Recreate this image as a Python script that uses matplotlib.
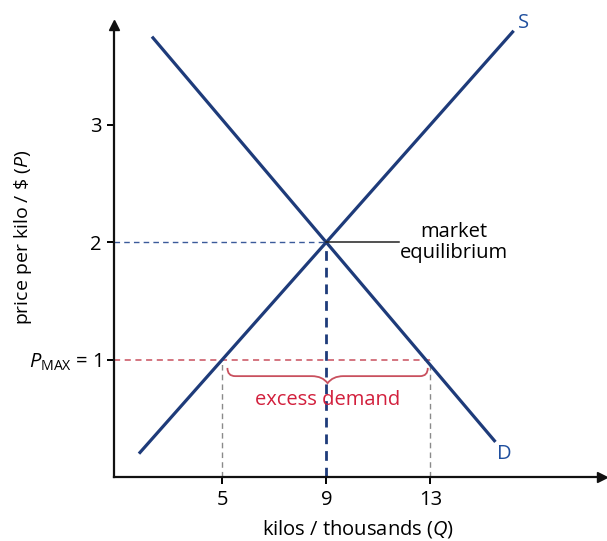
import matplotlib
matplotlib.use("Agg")
import matplotlib.pyplot as plt
from matplotlib.path import Path
from matplotlib.patches import PathPatch

plt.rcParams['font.family'] = ['Open Sans', 'DejaVu Sans']
plt.rcParams['mathtext.fontset'] = 'custom'
plt.rcParams['mathtext.rm'] = 'Open Sans'
plt.rcParams['mathtext.it'] = 'Open Sans:italic'

# ---- data ----
supply_q = [1.8, 16.2]
supply_p = [0.2, 3.8]
demand_q = [2.3, 15.5]
demand_p = [3.75, 0.3]
eq_q, eq_p = 9, 2
p_max = 1
q_supplied, q_demanded = 5, 13
x_ticks = [5, 9, 13]
x_tick_labels = ["5", "9", "13"]
y_ticks = [1, 2, 3]
y_tick_labels = [r"$\mathit{P}_{\mathrm{MAX}}$ = 1", "2", "3"]

NAVY = "#1e3b7a"
BLUE_TXT = "#1f4f9e"
RED = "#d21f3c"
RED_LINE = "#c9505e"
FS = 14.5

fig = plt.figure(figsize=(6.07, 5.41), dpi=100)
ax = fig.add_axes([0.188, 0.118, 0.804, 0.836])
ax.set_xlim(0.846, 19.6)
ax.set_ylim(0, 3.85)

for s in ["top", "right"]:
    ax.spines[s].set_visible(False)
for s in ["left", "bottom"]:
    ax.spines[s].set_linewidth(1.6)
    ax.spines[s].set_color("#111111")

ax.plot(1, 0, ">", color="#111111", ms=7, transform=ax.transAxes, clip_on=False)
ax.plot(0, 1, "^", color="#111111", ms=7, transform=ax.transAxes, clip_on=False)

ax.set_xticks(x_ticks)
ax.set_xticklabels(x_tick_labels)
ax.set_yticks(y_ticks)
ax.set_yticklabels(y_tick_labels)
ax.tick_params(axis="both", direction="out", length=5, width=1.4, labelsize=FS, pad=4)

ax.set_xlabel(r"kilos / thousands ($\mathit{Q}$)", fontsize=FS, labelpad=6)
ax.set_ylabel(r"price per kilo / \$ ($\mathit{P}$)", fontsize=14)
ax.yaxis.set_label_coords(-0.165, 0.53)

# dashed guide lines
xl = ax.get_xlim()[0]
ax.plot([xl, eq_q], [eq_p, eq_p], ls=(0, (4, 3)), color="#3a5a9a", lw=1.0)
ax.plot([eq_q, eq_q], [0, eq_p], ls=(0, (3.5, 2.5)), color=NAVY, lw=2.0)
ax.plot([xl, q_demanded], [p_max, p_max], ls=(0, (4, 3)), color=RED_LINE, lw=1.1)
for q in [q_supplied, q_demanded]:
    ax.plot([q, q], [0, p_max], ls=(0, (4, 3)), color="#8a8a8a", lw=1.0)

# supply & demand
ax.plot(supply_q, supply_p, color=NAVY, lw=2.3, solid_capstyle="butt")
ax.plot(demand_q, demand_p, color=NAVY, lw=2.3, solid_capstyle="butt")
ax.text(supply_q[1] + 0.15, supply_p[1] - 0.02, "S", color=BLUE_TXT, fontsize=FS, ha="left", va="bottom")
ax.text(demand_q[1] + 0.05, demand_p[1] - 0.02, "D", color=BLUE_TXT, fontsize=FS, ha="left", va="top")

# market equilibrium label
ax.plot([eq_q, 11.8], [eq_p, eq_p], color="#222222", lw=1.1)
ax.text(13.9, 2.0, "market\nequilibrium", fontsize=FS, ha="center", va="center", linespacing=1.05)

# brace
x0, x1 = q_supplied + 0.2, q_demanded - 0.1
xm = (x0 + x1) / 2
yt, yb, ym = 0.93, 0.86, 0.80
verts = [(x0, yt), (x0, yb), (x0 + 0.3, yb), (x0 + 0.6, yb),
         (xm - 0.6, yb), (xm - 0.2, yb), (xm, ym),
         (xm + 0.2, yb), (xm + 0.6, yb),
         (x1 - 0.6, yb), (x1 - 0.3, yb), (x1, yb), (x1, yt)]
codes = [Path.MOVETO, Path.CURVE3, Path.CURVE3, Path.LINETO,
         Path.LINETO, Path.CURVE3, Path.CURVE3,
         Path.CURVE3, Path.CURVE3,
         Path.LINETO, Path.LINETO, Path.CURVE3, Path.CURVE3]
ax.add_patch(PathPatch(Path(verts, codes), fill=False, edgecolor=RED_LINE, lw=1.3))
ax.text(xm, 0.66, "excess demand", color=RED, fontsize=FS, ha="center", va="center")

fig.savefig("out.png", dpi=100)
